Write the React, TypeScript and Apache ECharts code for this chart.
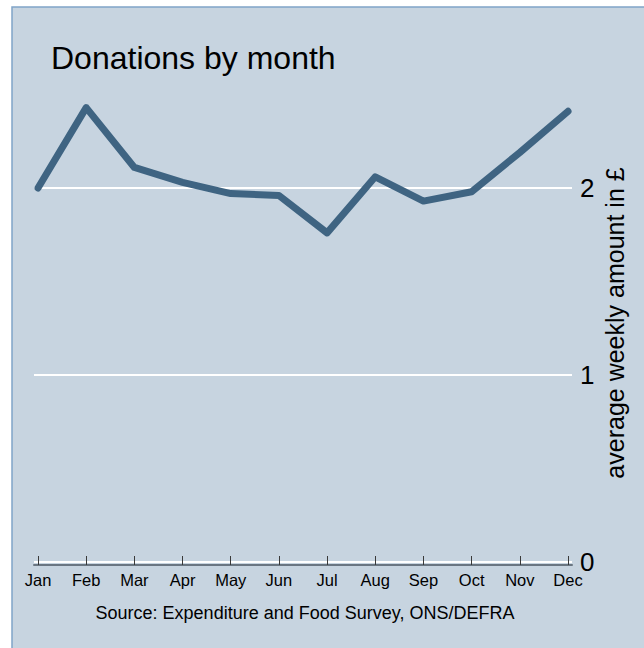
import React, { useEffect, useRef } from "react";
import * as echarts from "echarts";

const months = ["Jan", "Feb", "Mar", "Apr", "May", "Jun", "Jul", "Aug", "Sep", "Oct", "Nov", "Dec"];
const donations = [2.0, 2.43, 2.11, 2.03, 1.97, 1.96, 1.76, 2.06, 1.93, 1.98, 2.19, 2.41];
const yTicks = [0, 1, 2, 3];
const titleText = "Donations by month";
const yAxisTitle = "average weekly amount in £";
const sourceText = "Source: Expenditure and Food Survey, ONS/DEFRA";

const FONT = "'Liberation Sans', Arial, sans-serif";

export default function App() {
  const ref = useRef<HTMLDivElement>(null);
  useEffect(() => {
    if (!ref.current) return;
    const chart = echarts.init(ref.current, null, { renderer: "svg" });
    const idx = months.map((_, i) => i);
    chart.setOption({
      animation: false,
      backgroundColor: "#ffffff",
      title: {
        text: titleText,
        left: 46,
        top: 37,
        textStyle: { fontFamily: FONT, fontSize: 32, fontWeight: "normal", color: "#000" },
      },
      graphic: [
        {
          type: "rect",
          z: -10,
          silent: true,
          shape: { x: 12, y: 7, width: 700, height: 700 },
          style: { fill: "#c7d4e0", stroke: "#80a4c8", lineWidth: 1.5 },
        },
        {
          type: "text",
          x: 615,
          y: 323,
          rotation: Math.PI / 2,
          style: {
            text: yAxisTitle,
            fontFamily: FONT,
            fontSize: 25,
            fill: "#000",
            align: "center",
            verticalAlign: "middle",
          },
        },
        {
          type: "text",
          x: 305,
          y: 613,
          style: {
            text: sourceText,
            fontFamily: FONT,
            fontSize: 18,
            fill: "#000",
            align: "center",
            verticalAlign: "middle",
          },
        },
      ],
      grid: { left: 34, right: 72, top: 1, bottom: 86, containLabel: false },
      xAxis: {
        type: "value",
        min: -0.083,
        max: 11.083,
        offset: 3,
        axisLine: { show: true, onZero: false, lineStyle: { color: "#6a7682", width: 2 } },
        axisTick: {
          show: true,
          inside: true,
          length: 9,
          customValues: idx,
          lineStyle: { color: "#3a3a3a", width: 1 },
        },
        axisLabel: {
          customValues: idx,
          formatter: (v: number) => months[Math.round(v)],
          fontFamily: FONT,
          fontSize: 16.5,
          color: "#000",
          margin: 6,
        },
        splitLine: { show: false },
      },
      yAxis: {
        type: "value",
        position: "right",
        min: yTicks[0],
        max: yTicks[yTicks.length - 1],
        interval: 1,
        axisLine: { show: false },
        axisTick: { show: false },
        axisLabel: {
          showMaxLabel: false,
          fontFamily: FONT,
          fontSize: 26,
          color: "#000",
          margin: 8,
        },
        splitLine: { show: true, lineStyle: { color: "#ffffff", width: 2 } },
      },
      series: [
        {
          type: "line",
          data: donations.map((v, i) => [i, v]),
          symbol: "none",
          lineStyle: { color: "#3f6482", width: 7, cap: "round", join: "round" },
          z: 5,
        },
      ],
    });
    return () => chart.dispose();
  }, []);
  return (
    <div style={{ position: "absolute", left: 0, top: 0, width: 644, height: 648 }}>
      <div ref={ref} style={{ width: 644, height: 648 }} />
    </div>
  );
}
